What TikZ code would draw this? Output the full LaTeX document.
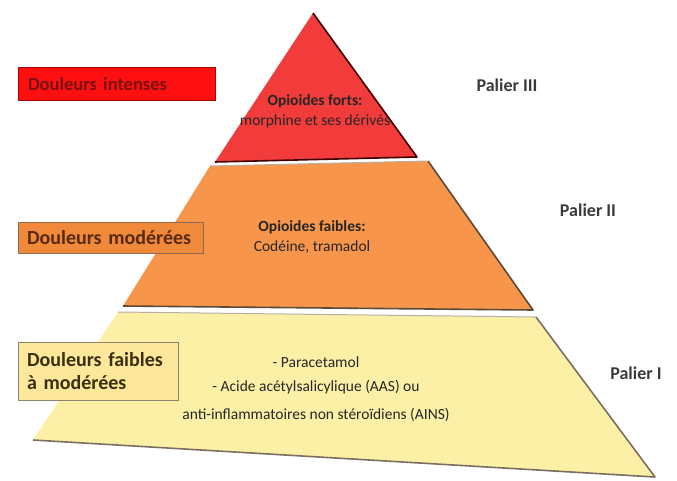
\documentclass[tikz,border=0pt]{standalone}
\usepackage{fontspec}
\setmainfont{Carlito}
\usetikzlibrary{calc}
\definecolor{redfill}{HTML}{F23B3B}
\definecolor{redbox}{HTML}{FF1010}
\definecolor{redtext}{HTML}{7A1010}
\definecolor{orfill}{HTML}{F7964A}
\definecolor{orbox}{HTML}{F08A3A}
\definecolor{ortext}{HTML}{5A2A10}
\definecolor{yefill}{HTML}{FCF0A6}
\definecolor{yebox}{HTML}{FCE79A}
\definecolor{yetext}{HTML}{3A3010}
\definecolor{edgecol}{HTML}{5A4A3A}
\definecolor{paliercol}{HTML}{3A3A3A}
\tikzset{
  layer/.style={draw=edgecol, line width=1.6pt, line join=round},
  sidebox/.style={draw, line width=1pt, anchor=west, inner sep=0pt, font=\bfseries\fontsize{20}{22}\selectfont},
  palier/.style={font=\bfseries\fontsize{18}{20}\selectfont, text=paliercol},
  inner/.style={font=\fontsize{15.5}{18}\selectfont, align=center, text=black!85},
}
\begin{document}
\begin{tikzpicture}[x=1pt,y=-1pt]
\useasboundingbox (0,0) rectangle (677,480);
% pyramid layers
\coordinate (apex) at (313,13);
\coordinate (rl) at (215,162);
\coordinate (rr) at (417,157);
\coordinate (otl) at (210,166);
\coordinate (otr) at (428,161);
\coordinate (obr) at (533,310);
\coordinate (obl) at (123,306);
\coordinate (ytl) at (118,312);
\coordinate (ytr) at (536,317);
\coordinate (ybr) at (655,477);
\coordinate (ybl) at (33,440);
\fill[yefill] (ytl) -- (ytr) -- (ybr) -- (ybl) -- cycle;
\draw[layer, draw=edgecol!80] (ytr) -- (ybr) -- (ybl);
\draw[line width=1pt, draw=edgecol!45] (ytl) -- (ytr);
\fill[orfill] (otl) -- (otr) -- (obr) -- (obl) -- cycle;
\draw[layer] (otr) -- (obr) -- (obl);
\draw[line width=1pt, draw=edgecol!45] (otl) -- (otr);
\fill[redfill] (apex) -- (rr) -- (rl) -- cycle;
\draw[layer, draw=black!75!red] (apex) -- (rr) -- (rl);
% pyramid texts
\node[inner] (t3) at (315,111) {\textbf{Opioides forts:}\\[2pt]morphine et ses dérivés};
\node[inner] (t2) at (312,237) {\textbf{Opioides faibles:}\\[2pt]Codéine, tramadol};
\node[inner] (t1) at (316,389) {- Paracetamol\\[6pt]- Acide acétylsalicylique (AAS) ou\\[10pt]anti-inflammatoires non stéroïdiens (AINS)};
% side boxes
\node[sidebox, draw=red!70!black, fill=redbox, text=redtext, minimum width=197, minimum height=33, text width=190, align=left, font=\bfseries\fontsize{18.5}{21}\selectfont] (b3) at (18,84) {\hspace*{6pt}Douleurs intenses};
\node[sidebox, draw=ortext!70, fill=orbox, text=ortext, minimum width=185, minimum height=31, text width=180, align=left] (b2) at (18,238) {\hspace*{6pt}Douleurs modérées};
\node[sidebox, draw=yetext!60, fill=yebox, text=yetext, minimum width=160, minimum height=58, text width=155, align=left] (b1) at (18,371) {\hspace*{6pt}Douleurs faibles\\[1pt]\hspace*{6pt}à modérées};
% palier labels
\node[palier] (p3) at (507,85) {Palier III};
\node[palier] (p2) at (588,210) {Palier II};
\node[palier] (p1) at (636,373) {Palier I};
\end{tikzpicture}
\end{document}
